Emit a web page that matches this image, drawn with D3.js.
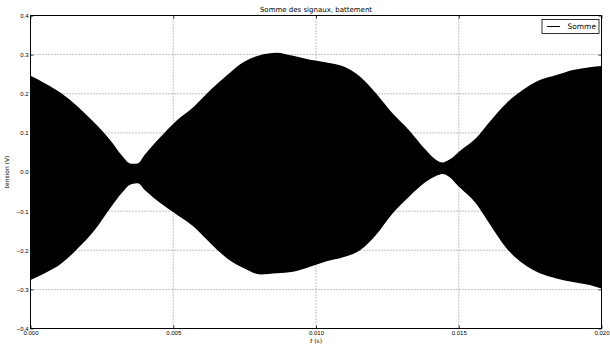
<!DOCTYPE html>
<html>
<head>
<meta charset="utf-8">
<script src="https://cdn.jsdelivr.net/npm/d3@7"></script>
<style>
  body { margin: 0; background: #fff; }
  svg { display: block; font-family: "DejaVu Sans", sans-serif; }
  .grid line { stroke: #000; stroke-width: 0.6; stroke-dasharray: 1,2; opacity: 0.8; }
  .axis path { display: none; }
  .axis line { stroke: #000; stroke-width: 0.8; }
  .axis text { font-size: 6px; fill: #000; }
</style>
</head>
<body>
<figure id="chart" style="margin:0"></figure>
<script>
// time samples (s) and envelope
const tValues = [0, 0.0005, 0.00108, 0.00166, 0.00225, 0.00283, 0.00318, 0.00353, 0.00376, 0.0040,
  0.00456, 0.00514, 0.00572, 0.00631, 0.00689, 0.00748, 0.00806, 0.00862, 0.0092, 0.00979,
  0.01037, 0.01095, 0.01154, 0.0121, 0.01268, 0.01326, 0.01385, 0.0142, 0.01443, 0.01466,
  0.01501, 0.0156, 0.0161, 0.01667, 0.01725, 0.01784, 0.01842, 0.019, 0.01959, 0.02];
const upperValues = [0.246, 0.227, 0.201, 0.167, 0.125, 0.078, 0.044, 0.021, 0.022, 0.044,
  0.090, 0.133, 0.167, 0.210, 0.248, 0.282, 0.299, 0.305, 0.297, 0.287,
  0.280, 0.270, 0.244, 0.201, 0.150, 0.107, 0.056, 0.031, 0.024, 0.031,
  0.052, 0.086, 0.130, 0.176, 0.210, 0.235, 0.248, 0.261, 0.268, 0.271];
const lowerValues = [-0.276, -0.259, -0.234, -0.195, -0.148, -0.089, -0.055, -0.031, -0.029, -0.046,
  -0.080, -0.110, -0.140, -0.183, -0.221, -0.246, -0.262, -0.259, -0.255, -0.242,
  -0.228, -0.218, -0.200, -0.161, -0.106, -0.063, -0.025, -0.010, -0.005, -0.012,
  -0.038, -0.080, -0.135, -0.195, -0.234, -0.259, -0.272, -0.281, -0.289, -0.298];
const xTicks = [0, 0.005, 0.010, 0.015, 0.020];
const yTicks = [-0.4, -0.3, -0.2, -0.1, 0.0, 0.1, 0.2, 0.3, 0.4];
const seriesName = "Somme";

const width = 610, height = 345;
const mLeft = 30.5, mRight = 601.5, mTop = 15.5, mBottom = 328.5;

const svg = d3.select("#chart").append("svg")
  .attr("width", width)
  .attr("height", height);

const x = d3.scaleLinear().domain([0, 0.02]).range([mLeft, mRight]);
const y = d3.scaleLinear().domain([-0.4, 0.4]).range([mBottom, mTop]);

const data = tValues.map((t, i) => ({ t: t, hi: upperValues[i], lo: lowerValues[i] }));

// signal envelope
svg.append("path")
  .datum(data)
  .attr("fill", "#000")
  .attr("d", d3.area().curve(d3.curveMonotoneX)
    .x(d => x(d.t)).y0(d => y(d.lo)).y1(d => y(d.hi)));

// grid
const grid = svg.append("g").attr("class", "grid");
grid.selectAll(".gx").data(xTicks.slice(1, -1)).enter().append("line")
  .attr("x1", d => x(d)).attr("x2", d => x(d))
  .attr("y1", mTop).attr("y2", mBottom);
grid.selectAll(".gy").data(yTicks.slice(1, -1)).enter().append("line")
  .attr("x1", mLeft).attr("x2", mRight)
  .attr("y1", d => y(d)).attr("y2", d => y(d));

// axes, ticks pointing inward
svg.append("g").attr("class", "axis")
  .attr("transform", "translate(0," + mBottom + ")")
  .call(d3.axisBottom(x).tickValues(xTicks).tickFormat(d3.format(".3f")).tickSize(-3).tickPadding(2.5));
svg.append("g").attr("class", "axis")
  .attr("transform", "translate(0," + mTop + ")")
  .call(d3.axisTop(x).tickValues(xTicks).tickFormat("").tickSize(-3));
svg.append("g").attr("class", "axis")
  .attr("transform", "translate(" + mLeft + ",0)")
  .call(d3.axisLeft(y).tickValues(yTicks).tickFormat(d3.format(".1f")).tickSize(-3).tickPadding(2));
svg.append("g").attr("class", "axis")
  .attr("transform", "translate(" + mRight + ",0)")
  .call(d3.axisRight(y).tickValues(yTicks).tickFormat("").tickSize(-3));

// frame
svg.append("rect")
  .attr("x", mLeft).attr("y", mTop)
  .attr("width", mRight - mLeft).attr("height", mBottom - mTop)
  .attr("fill", "none").attr("stroke", "#000").attr("stroke-width", 1);

// title and labels
svg.append("text")
  .attr("x", (mLeft + mRight) / 2).attr("y", 11.5)
  .attr("text-anchor", "middle").attr("font-size", 7)
  .text("Somme des signaux, battement");
const xl = svg.append("text")
  .attr("x", (mLeft + mRight) / 2).attr("y", 343)
  .attr("text-anchor", "middle").attr("font-size", 6);
xl.append("tspan").attr("font-style", "italic").text("t");
xl.append("tspan").text(" (s)");
svg.append("text")
  .attr("transform", "translate(9," + y(0) + ") rotate(-90)")
  .attr("text-anchor", "middle").attr("font-size", 6)
  .text("tension (V)");

// legend
const lg = svg.append("g");
lg.append("rect")
  .attr("x", 542).attr("y", 19.5).attr("width", 57).attr("height", 14)
  .attr("fill", "#fff").attr("stroke", "#000").attr("stroke-width", 0.8);
lg.append("line")
  .attr("x1", 547).attr("x2", 560).attr("y1", 26.5).attr("y2", 26.5)
  .attr("stroke", "#000").attr("stroke-width", 1);
lg.append("text")
  .attr("x", 596).attr("y", 29.2).attr("text-anchor", "end").attr("font-size", 7.5)
  .text(seriesName);
</script>
</body>
</html>
